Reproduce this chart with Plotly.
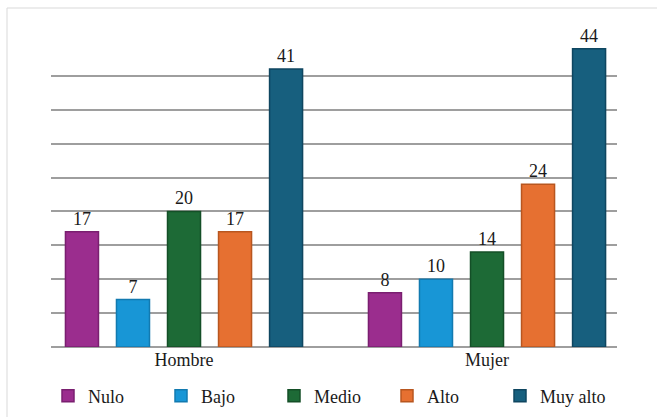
import plotly.graph_objects as go

categories = ["Hombre", "Mujer"]
series = ["Nulo", "Bajo", "Medio", "Alto", "Muy alto"]
values = {
    "Nulo": [17, 8],
    "Bajo": [7, 10],
    "Medio": [20, 14],
    "Alto": [17, 24],
    "Muy alto": [41, 44],
}
colors = ["#9B2D8E", "#1896D6", "#1D6A36", "#E67031", "#175F7E"]
edge_colors = ["#7A1F70", "#127AB0", "#144F27", "#B8561F", "#0F4660"]

FONT = "Liberation Serif"
W, H = 657, 417
L, R, T, B = 51, 40, 42, 70

fig = go.Figure()
for name, c, ec in zip(series, colors, edge_colors):
    fig.add_trace(go.Bar(
        name=name, x=categories, y=values[name],
        marker=dict(color=c, line=dict(color=ec, width=1.5)),
        text=[str(v) for v in values[name]], textposition="outside",
        textfont=dict(family=FONT, size=18, color="#1a1a1a"),
        cliponaxis=False,
    ))

pw = W - L - R
ph = H - T - B

fig.update_layout(
    width=W, height=H,
    margin=dict(l=L, r=R, t=T, b=B, autoexpand=False),
    paper_bgcolor="white", plot_bgcolor="white",
    barmode="group", bargap=0.158, bargroupgap=0.353,
    font=dict(family=FONT, size=18, color="#1a1a1a"),
    showlegend=True,
    legend=dict(
        orientation="h", xref="container", yref="container",
        x=48 / W, xanchor="left",
        y=1 - 396 / H, yanchor="middle",
        entrywidth=68, entrywidthmode="pixels", itemwidth=30,
        font=dict(family=FONT, size=18, color="#1a1a1a"),
        traceorder="normal", bgcolor="rgba(0,0,0,0)",
    ),
    xaxis=dict(
        type="category", range=[-0.439, 1.429],
        showgrid=False, showline=False, ticks="",
        tickfont=dict(family=FONT, size=18, color="#1a1a1a"),
    ),
    yaxis=dict(
        range=[0, 45], dtick=5, showticklabels=False, ticks="",
        showgrid=True, gridcolor="#9E9E9E", gridwidth=1.5,
        zeroline=True, zerolinecolor="#9E9E9E", zerolinewidth=1.5,
        showline=False,
    ),
    shapes=[
        dict(type="line", xref="paper", yref="paper",
             x0=(7 - L) / pw, x1=(W + 5 - L) / pw,
             y0=(H - B - 8) / ph, y1=(H - B - 8) / ph,
             line=dict(color="#D9D9D9", width=1)),
        dict(type="line", xref="paper", yref="paper",
             x0=(7 - L) / pw, x1=(7 - L) / pw,
             y0=(H - B - 8) / ph, y1=(H - B - 425) / ph,
             line=dict(color="#D9D9D9", width=1)),
    ],
)

fig.write_html("out.html")
